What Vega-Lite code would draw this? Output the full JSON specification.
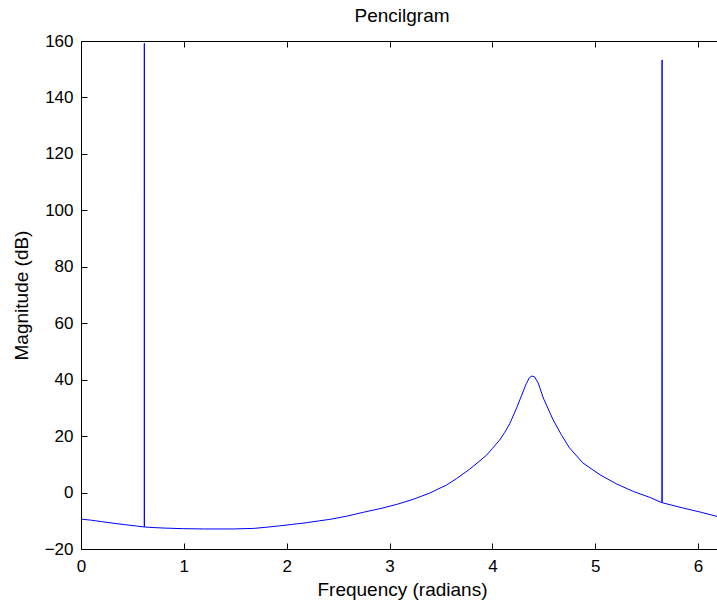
{
  "$schema": "https://vega.github.io/schema/vega-lite/v6.json",
  "width": 636,
  "height": 508,
  "autosize": {"type": "none"},
  "padding": {"left": 81, "top": 41, "right": 0, "bottom": 53},
  "background": "white",
  "config": {
    "view": {"stroke": null},
    "font": "Liberation Sans",
    "axis": {
      "domainColor": "black",
      "domainWidth": 1,
      "tickColor": "black",
      "tickWidth": 1,
      "tickSize": -6,
      "grid": false,
      "labelFont": "Liberation Sans",
      "labelFontSize": 17,
      "labelColor": "black",
      "titleFont": "Liberation Sans",
      "titleFontSize": 19,
      "titleFontWeight": "normal",
      "titleColor": "black"
    }
  },
  "title": {
    "text": "Pencilgram",
    "font": "Liberation Sans",
    "fontSize": 19,
    "fontWeight": "normal",
    "color": "black",
    "anchor": "middle",
    "frame": "group",
    "baseline": "alphabetic",
    "offset": -9,
    "dx": 3
  },
  "data": {
    "values": [
      {"f": 0.00, "m": -9.4},
      {"f": 0.10, "m": -9.8},
      {"f": 0.20, "m": -10.3},
      {"f": 0.30, "m": -10.8},
      {"f": 0.43, "m": -11.4},
      {"f": 0.55, "m": -11.9},
      {"f": 0.615, "m": -12.2},
      {"f": 0.616, "m": 159.2},
      {"f": 0.617, "m": -12.2},
      {"f": 0.70, "m": -12.4},
      {"f": 0.82, "m": -12.6},
      {"f": 1.00, "m": -12.8},
      {"f": 1.20, "m": -12.9},
      {"f": 1.48, "m": -12.9},
      {"f": 1.68, "m": -12.7},
      {"f": 1.80, "m": -12.3},
      {"f": 1.93, "m": -11.8},
      {"f": 2.05, "m": -11.3},
      {"f": 2.19, "m": -10.7},
      {"f": 2.32, "m": -10.0},
      {"f": 2.42, "m": -9.5},
      {"f": 2.58, "m": -8.4},
      {"f": 2.745, "m": -7.0},
      {"f": 2.907, "m": -5.7},
      {"f": 3.07, "m": -4.2},
      {"f": 3.23, "m": -2.4},
      {"f": 3.39, "m": -0.2},
      {"f": 3.555, "m": 2.7},
      {"f": 3.65, "m": 4.9},
      {"f": 3.78, "m": 8.3},
      {"f": 3.88, "m": 11.3},
      {"f": 3.945, "m": 13.3},
      {"f": 4.00, "m": 15.6},
      {"f": 4.07, "m": 18.6},
      {"f": 4.12, "m": 21.3},
      {"f": 4.17, "m": 24.5},
      {"f": 4.236, "m": 30.0},
      {"f": 4.285, "m": 34.5},
      {"f": 4.33, "m": 38.6},
      {"f": 4.36, "m": 40.7},
      {"f": 4.385, "m": 41.3},
      {"f": 4.41, "m": 41.0},
      {"f": 4.446, "m": 38.8},
      {"f": 4.495, "m": 33.5},
      {"f": 4.59, "m": 25.8},
      {"f": 4.67, "m": 20.5},
      {"f": 4.75, "m": 15.8},
      {"f": 4.88, "m": 10.5},
      {"f": 5.046, "m": 6.3},
      {"f": 5.21, "m": 3.0},
      {"f": 5.37, "m": 0.4},
      {"f": 5.53, "m": -1.7},
      {"f": 5.649, "m": -3.6},
      {"f": 5.650, "m": 153.3},
      {"f": 5.651, "m": -3.6},
      {"f": 5.856, "m": -5.5},
      {"f": 6.02, "m": -6.9},
      {"f": 6.20, "m": -8.6}
    ]
  },
  "layer": [
    {
      "mark": {"type": "line", "color": "#0000ff", "strokeWidth": 1, "clip": true},
      "encoding": {
        "x": {
          "field": "f", "type": "quantitative",
          "scale": {"domain": [0, 6.184], "nice": false, "zero": false},
          "axis": {
            "orient": "bottom",
            "values": [0, 1, 2, 3, 4, 5, 6],
            "format": "d",
            "labelPadding": 15,
            "labelFlush": false,
            "title": "Frequency (radians)",
            "titleX": 321,
            "titleY": 46,
            "titleBaseline": "alphabetic",
            "titleAnchor": "middle"
          }
        },
        "y": {
          "field": "m", "type": "quantitative",
          "scale": {"domain": [-20, 160], "nice": false, "zero": false},
          "axis": {
            "orient": "left",
            "values": [-20, 0, 20, 40, 60, 80, 100, 120, 140, 160],
            "format": "d",
            "labelPadding": 14,
            "labelFlush": false,
            "title": "Magnitude (dB)",
            "titleX": -60,
            "titleY": 254,
            "titleAngle": -90,
            "titleBaseline": "middle",
            "titleAnchor": "middle"
          }
        }
      }
    },
    {
      "mark": {"type": "line", "strokeOpacity": 0, "clip": true},
      "encoding": {
        "x": {
          "field": "f", "type": "quantitative",
          "scale": {"domain": [0, 6.184], "nice": false, "zero": false},
          "axis": {
            "orient": "top",
            "values": [0, 1, 2, 3, 4, 5, 6],
            "labels": false,
            "title": null
          }
        },
        "y": {
          "field": "m", "type": "quantitative",
          "scale": {"domain": [-20, 160], "nice": false, "zero": false},
          "axis": {
            "orient": "left",
            "values": [-20, 0, 20, 40, 60, 80, 100, 120, 140, 160],
            "format": "d",
            "labelPadding": 14,
            "labelFlush": false,
            "title": "Magnitude (dB)",
            "titleX": -60,
            "titleY": 254,
            "titleAngle": -90,
            "titleBaseline": "middle",
            "titleAnchor": "middle"
          }
        }
      }
    }
  ],
  "resolve": {"axis": {"x": "independent"}}
}
